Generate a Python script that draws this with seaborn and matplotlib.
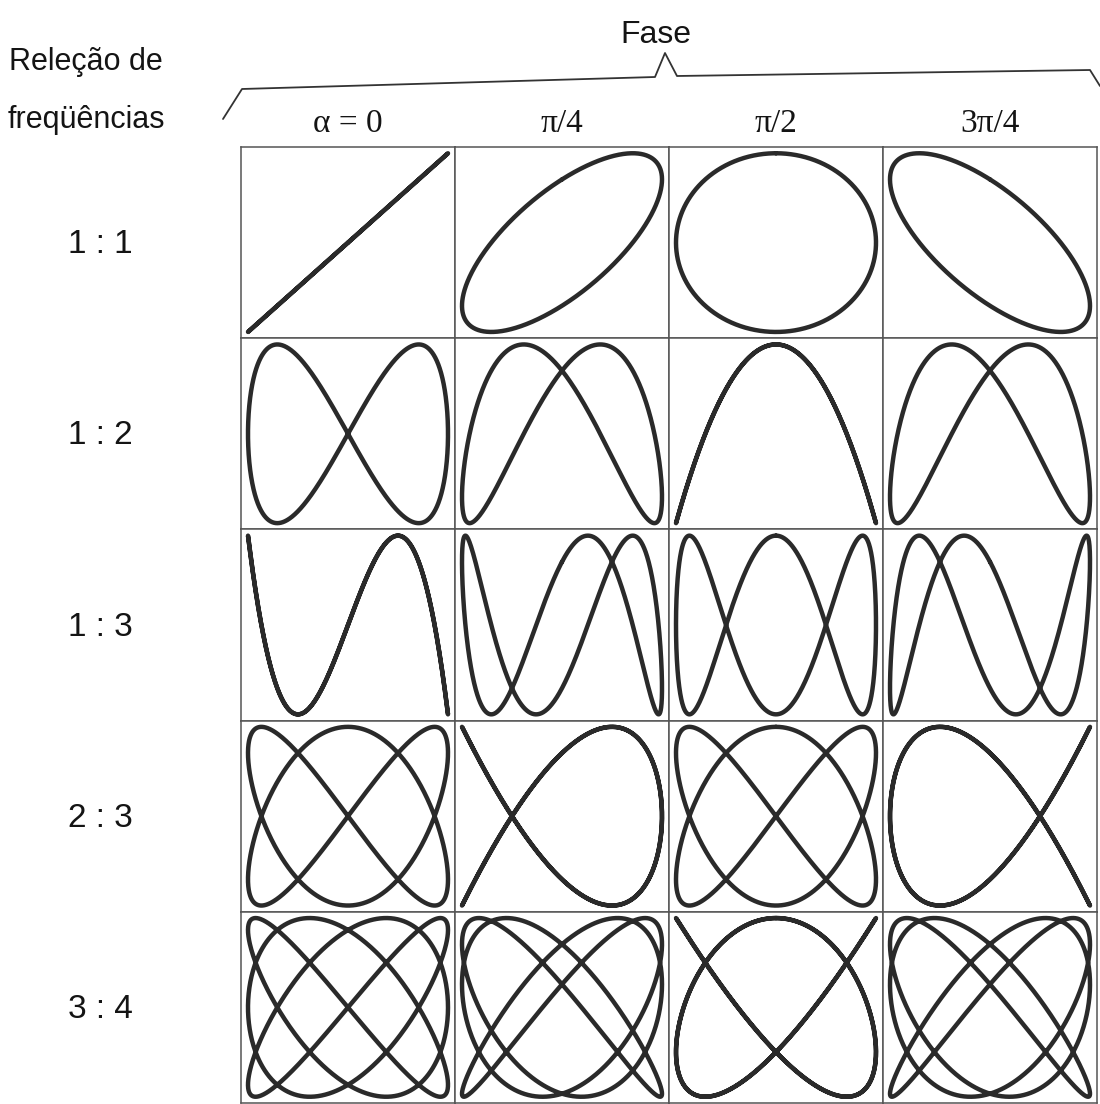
import numpy as np
import pandas as pd
import seaborn as sns
import matplotlib.pyplot as plt

# Relacoes de frequencia (x : y) de cada linha e fase de cada coluna
razoes = ['1 : 1', '1 : 2', '1 : 3', '2 : 3', '3 : 4']
freq_x = [1, 1, 1, 2, 3]
freq_y = [1, 2, 3, 3, 4]
fases = [0, np.pi / 4, np.pi / 2, 3 * np.pi / 4]
rotulos_fase = ['α = 0', 'π/4', 'π/2', '3π/4']

# tamanho da figura e bordas da grade, em pixels
W, H = 1100, 1104
ESQ, DIR, TOPO, BASE = 241, 1097, 147, 1103

COR_CURVA = '#2a2a2a'
COR_GRADE = '#555555'
COR_TEXTO = '#141414'
SANS = ['Liberation Sans', 'DejaVu Sans']
SERIF = ['Liberation Serif', 'DejaVu Serif']


def curva_lissajous(a, b, alfa, n=1500):
    '''
    Pontos de uma figura de Lissajous: x = sin(a t), y = sin(b t + alfa)
    '''
    t = np.linspace(0, 2 * np.pi, n)
    return pd.DataFrame({'x': np.sin(a * t), 'y': np.sin(b * t + alfa)})


def main():
    sns.set_theme(style='white')
    plt.rcParams['font.family'] = SANS

    fig = plt.figure(figsize=(W / 100, H / 100), dpi=100)
    nl, nc = len(razoes), len(fases)
    larg = (DIR - ESQ) / nc
    alt = (BASE - TOPO) / nl

    # uma celula (axes) por par razao / fase
    for i in range(nl):
        for j in range(nc):
            x0 = ESQ + j * larg
            y0 = TOPO + i * alt
            ax = fig.add_axes([x0 / W, 1 - (y0 + alt) / H, larg / W, alt / H])
            df = curva_lissajous(freq_x[i], freq_y[i], fases[j])
            sns.lineplot(data=df, x='x', y='y', sort=False, estimator=None,
                         color=COR_CURVA, lw=3.2, ax=ax)
            ax.set_xlim(-1.07, 1.07)
            ax.set_ylim(-1.07, 1.07)
            ax.set_xticks([])
            ax.set_yticks([])
            ax.set_xlabel('')
            ax.set_ylabel('')
            for sp in ax.spines.values():
                sp.set_visible(True)
                sp.set_color(COR_GRADE)
                sp.set_linewidth(1.1)

    # camada de fundo em coordenadas de pixel, para textos e a chave
    fundo = fig.add_axes([0, 0, 1, 1], zorder=5)
    fundo.set_xlim(0, W)
    fundo.set_ylim(H, 0)
    fundo.axis('off')

    fundo.text(86, 70, 'Releção de', ha='center', va='baseline',
               fontsize=22, color=COR_TEXTO, family=SANS)
    fundo.text(86, 128, 'freqüências', ha='center', va='baseline',
               fontsize=22, color=COR_TEXTO, family=SANS)
    fundo.text(656, 43, 'Fase', ha='center', va='baseline',
               fontsize=23, color=COR_TEXTO, family=SANS)

    for i, r in enumerate(razoes):
        yc = TOPO + (i + 0.5) * alt
        fundo.text(100, yc + 2, r, ha='center', va='center',
                   fontsize=24, color=COR_TEXTO, family=SANS)

    for j, r in enumerate(rotulos_fase):
        xc = ESQ + (j + 0.5) * larg
        fundo.text(xc, 132, r, ha='center', va='baseline',
                   fontsize=24, color=COR_TEXTO, family=SERIF)

    # chave sobre as colunas com o bico em "Fase"
    chave_x = [223, 242, 655, 665, 677, 1090, 1100]
    chave_y = [119, 89, 77, 53, 76, 70, 86]
    fundo.plot(chave_x, chave_y, color='#333333', lw=1.3)

    fig.savefig('out.png', dpi=100, facecolor='white')


if __name__ == '__main__':
    main()
